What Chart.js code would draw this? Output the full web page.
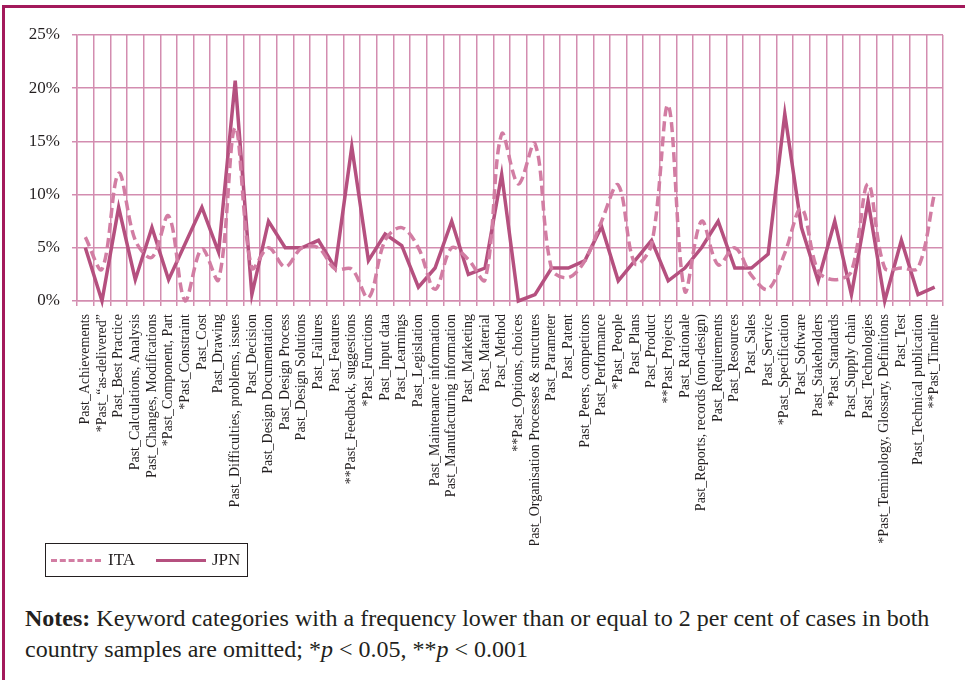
<!DOCTYPE html>
<html lang="en">
<head>
    <meta charset="UTF-8">
    <title>Past keyword categories ITA vs JPN</title>
    <script src="https://cdn.jsdelivr.net/npm/chart.js"></script>
    <style>
        body {
            margin: 0;
            width: 965px;
            height: 680px;
            overflow: hidden;
            background: #fff;
            font-family: "Liberation Serif", "DejaVu Serif", serif;
            color: #231f20;
            position: relative;
        }

        .frame {
            position: absolute;
            left: 2px;
            top: 5px;
            width: 980px;
            height: 700px;
            border-top: 3px solid #a3195b;
            border-left: 3px solid #a3195b;
        }

        .chart-box {
            position: absolute;
            left: 0;
            top: 0;
            width: 965px;
            height: 545px;
        }

        .legend {
            position: absolute;
            left: 45px;
            top: 543px;
            width: 201px;
            height: 32px;
            border: 1px solid #231f20;
            font-size: 17px;
        }

        .legend span {
            position: absolute;
            top: 6px;
        }

        .legend .swatch {
            position: absolute;
            top: 15px;
            width: 50px;
            height: 0;
        }

        .notes {
            position: absolute;
            left: 25px;
            top: 603px;
            width: 940px;
            font-size: 24px;
            line-height: 31px;
            white-space: nowrap;
        }
    </style>
</head>
<body>

    <div class="frame"></div>
    <div class="chart-box">
        <canvas id="pastChart" width="965" height="545"></canvas>
    </div>

    <div class="legend">
        <div class="swatch" style="left:5px; border-top:3px dashed #d27da3;"></div>
        <span style="left:62px;">ITA</span>
        <div class="swatch" style="left:110px; border-top:3px solid #b5507f;"></div>
        <span style="left:166px;">JPN</span>
    </div>

    <div class="notes">
        <b>Notes:</b> Keyword categories with a frequency lower than or equal to 2 per cent of cases in both<br>
        country samples are omitted; *<i>p</i> &lt; 0.05, **<i>p</i> &lt; 0.001
    </div>

    <script>
        // Keyword categories (share of cases, %)
        const categories = [
            "Past_Achievements", "*Past_\u201cas-delivered\u201d", "Past_Best Practice",
            "Past_Calculations, Analysis", "Past_Changes, Modifications", "*Past_Component, Part",
            "*Past_Constraint", "Past_Cost", "Past_Drawing", "Past_Difficulties, problems, issues",
            "Past_Decision", "Past_Design Documentation", "Past_Design Process",
            "Past_Design Solutions", "Past_Failures", "Past_Features",
            "**Past_Feedback, suggestions", "*Past_Functions", "Past_Input data",
            "Past_Learnings", "Past_Legislation", "Past_Maintenance information",
            "Past_Manufacturing information", "Past_Marketing", "Past_Material",
            "Past_Method", "**Past_Options, choices", "**Past_Organisation Processes & structures",
            "Past_Parameter", "Past_Patent", "Past_Peers, competitors", "Past_Performance",
            "*Past_People", "Past_Plans", "Past_Product", "**Past_Projects", "Past_Rationale",
            "Past_Reports, records (non-design)", "Past_Requirements", "Past_Resources",
            "Past_Sales", "Past_Service", "*Past_Specification", "Past_Software",
            "Past_Stakeholders", "*Past_Standards", "Past_Supply chain", "Past_Technologies",
            "*Past_Teminology, Glossary, Definitions", "Past_Test", "Past_Technical publication",
            "**Past_Timeline"
        ];

        const itaValues = [
            6.0, 3.0, 12.0, 5.7, 4.1, 8.0, 0, 4.9, 2.0, 16.3,
            3.1, 5.0, 3.2, 5.0, 5.0, 3.0, 3.0, 0.3, 5.7, 6.9,
            5.0, 1.1, 5.0, 3.9, 2.0, 15.7, 11.0, 14.8, 3.0, 2.2,
            3.8, 7.5, 10.9, 3.5, 5.3, 18.4, 0.9, 7.5, 3.4, 5.0,
            2.4, 1.1, 4.5, 8.7, 2.8, 2.0, 2.8, 11.0, 3.1, 3.1,
            3.1, 10.2
        ];

        const jpnValues = [
            5.0, 0, 8.8, 2.0, 6.9, 2.0, 5.4, 8.8, 4.6, 20.7,
            0.6, 7.5, 5.0, 5.0, 5.7, 3.1, 14.5, 3.8, 6.3, 5.2,
            1.3, 3.1, 7.5, 2.5, 3.1, 11.9, 0, 0.6, 3.1, 3.1,
            3.8, 7.0, 1.9, 3.8, 5.7, 1.9, 3.1, 5.0, 7.5, 3.1,
            3.1, 4.4, 17.6, 6.9, 1.9, 7.5, 0.6, 9.4, 0, 5.7,
            0.6, 1.3
        ];

        const yTicks = [0, 5, 10, 15, 20, 25];

        const gridColor = "#d38db0";
        const labelFont = { family: "'Liberation Serif', serif" };

        new Chart(document.getElementById("pastChart"), {
            type: "line",
            data: {
                labels: categories,
                datasets: [
                    {
                        label: "ITA",
                        data: itaValues,
                        borderColor: "#d27da3",
                        borderWidth: 3.5,
                        borderDash: [10, 5],
                        tension: 0.35,
                        pointRadius: 0,
                        clip: false
                    },
                    {
                        label: "JPN",
                        data: jpnValues,
                        borderColor: "#b5507f",
                        borderWidth: 3.5,
                        tension: 0,
                        pointRadius: 0,
                        clip: false
                    }
                ]
            },
            options: {
                responsive: false,
                animation: false,
                layout: {
                    padding: { top: 35, right: 22, left: 0, bottom: 0 }
                },
                plugins: {
                    legend: { display: false },
                    tooltip: { enabled: false }
                },
                scales: {
                    x: {
                        offset: true,
                        grid: {
                            offset: true,
                            color: gridColor,
                            lineWidth: 1.5,
                            tickLength: 5
                        },
                        border: { color: gridColor, width: 1.5 },
                        ticks: {
                            autoSkip: false,
                            minRotation: 90,
                            maxRotation: 90,
                            padding: 8,
                            color: "#231f20",
                            font: { ...labelFont, size: 14 }
                        },
                        afterFit: scale => { scale.height = 244; }
                    },
                    y: {
                        min: yTicks[0],
                        max: yTicks[yTicks.length - 1],
                        afterBuildTicks: scale => {
                            scale.ticks = yTicks.map(v => ({ value: v }));
                        },
                        grid: {
                            color: gridColor,
                            lineWidth: 1.5,
                            tickLength: 5
                        },
                        border: { color: gridColor, width: 1.5 },
                        ticks: {
                            padding: 12,
                            color: "#231f20",
                            font: { ...labelFont, size: 17 },
                            callback: v => v + "%"
                        },
                        afterFit: scale => { scale.width = 77; }
                    }
                }
            }
        });
    </script>

</body>
</html>
